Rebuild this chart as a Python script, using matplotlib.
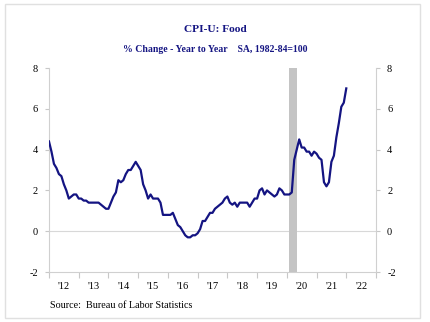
import matplotlib
matplotlib.use("Agg")
import matplotlib.pyplot as plt
from matplotlib.patches import Rectangle
import numpy as np

# Monthly CPI-U Food, % change year to year, Jan 2012 .. Jan 2022
vals_2012 = [4.4, 3.9, 3.3, 3.1, 2.8, 2.7, 2.3, 2.0, 1.6, 1.7, 1.8, 1.8]
vals_2013 = [1.6, 1.6, 1.5, 1.5, 1.4, 1.4, 1.4, 1.4, 1.4, 1.3, 1.2, 1.1]
vals_2014 = [1.1, 1.4, 1.7, 1.9, 2.5, 2.4, 2.5, 2.8, 3.0, 3.0, 3.2, 3.4]
vals_2015 = [3.2, 3.0, 2.3, 2.0, 1.6, 1.8, 1.6, 1.6, 1.6, 1.4, 0.8, 0.8]
vals_2016 = [0.8, 0.8, 0.9, 0.6, 0.3, 0.2, 0.0, -0.2, -0.3, -0.3, -0.2, -0.2]
vals_2017 = [-0.1, 0.1, 0.5, 0.5, 0.7, 0.9, 0.9, 1.1, 1.2, 1.3, 1.4, 1.6]
vals_2018 = [1.7, 1.4, 1.3, 1.4, 1.2, 1.4, 1.4, 1.4, 1.4, 1.2, 1.4, 1.6]
vals_2019 = [1.6, 2.0, 2.1, 1.8, 2.0, 1.9, 1.8, 1.7, 1.8, 2.1, 2.0, 1.8]
vals_2020 = [1.8, 1.8, 1.9, 3.5, 4.0, 4.5, 4.1, 4.1, 3.9, 3.9, 3.7, 3.9]
vals_2021 = [3.8, 3.6, 3.5, 2.4, 2.2, 2.4, 3.4, 3.7, 4.6, 5.3, 6.1, 6.3]
vals_2022 = [7.0]

values = (vals_2012 + vals_2013 + vals_2014 + vals_2015 + vals_2016 + vals_2017
          + vals_2018 + vals_2019 + vals_2020 + vals_2021 + vals_2022)
start_year = 2012
dates = start_year + np.arange(len(values)) / 12.0

year_labels = ["'12", "'13", "'14", "'15", "'16", "'17", "'18", "'19", "'20", "'21", "'22"]
y_ticks = [-2, 0, 2, 4, 6, 8]
recession = (2020 + 1/12, 2020 + 4/12)

navy = "#141482"
serif = ["Liberation Serif", "DejaVu Serif"]

fig = plt.figure(figsize=(4.30, 3.22), dpi=100)
fig.patch.set_facecolor("white")
fig.add_artist(Rectangle((5/430, 4/322), 415/430, 314/322, transform=fig.transFigure,
                         fill=False, edgecolor="#e0e0e0", linewidth=1.0))

ax = fig.add_axes([49/430, 1 - 272/322, 327/430, 204/322])
ax.axvspan(recession[0], recession[1], color="#c4c4c4", zorder=1, lw=0)
ax.axhline(0, color="#d8d8d8", lw=0.8, zorder=0)
ax.plot(dates, values, color=navy, lw=1.6, zorder=3)

ax.set_xlim(2012, 2023)
ax.set_ylim(-2, 8)
ax.set_yticks(y_ticks)
ax.set_yticklabels([str(v) for v in y_ticks])
ax.set_xticks(np.arange(2012, 2024))
ax.set_xticklabels([])
ax.set_xticks(np.arange(2012, 2023) + 0.5, minor=True)
ax.set_xticklabels(year_labels, minor=True)
ax.tick_params(axis="x", which="minor", length=0, pad=7, labelsize=7.5)
ax.tick_params(axis="x", which="major", length=4, color="#c8c8c8", direction="out")
ax.tick_params(axis="y", length=3, color="#c8c8c8", labelsize=7.5, pad=5,
               left=True, right=True, labelleft=True, labelright=True)
for lab in ax.get_xticklabels(minor=True) + ax.get_yticklabels():
    lab.set_fontfamily(serif)

ax.spines["top"].set_visible(False)
for side in ["left", "right", "bottom"]:
    ax.spines[side].set_color("#d0d0d0")
    ax.spines[side].set_linewidth(0.8)

fig.text(0.5, 1 - 29/322, "CPI-U: Food", ha="center", va="center",
         color=navy, fontsize=8.2, fontweight="bold", family=serif)
fig.text(0.5, 1 - 49/322, "% Change - Year to Year    SA, 1982-84=100", ha="center",
         va="center", color=navy, fontsize=7.0, fontweight="bold", family=serif)
fig.text(50/430, 1 - 306/322, "Source:  Bureau of Labor Statistics", ha="left",
         va="center", color="black", fontsize=7.3, family=serif)

fig.savefig("out.png", dpi=100)
